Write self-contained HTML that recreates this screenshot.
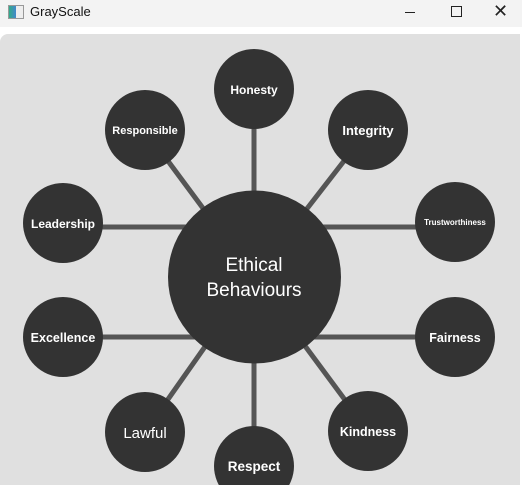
<!DOCTYPE html>
<html><head><style>
body{margin:0;width:522px;height:485px;overflow:hidden;background:#fff;font-family:"Liberation Sans",sans-serif;position:relative}
.tb{position:absolute;left:0;top:0;width:522px;height:27px;background:#f3f3f3}
.gray{position:absolute;left:0;top:34px;width:520px;height:451px;background:#e0e0e0;border-top-left-radius:8px}
</style></head><body>
<div class="tb">
<div style="position:absolute;left:8px;top:5px;width:14px;height:12px;border:1px solid #999;background:linear-gradient(90deg,#3a8 0,#48c 50%,#eee 50%)"></div>
<div style="position:absolute;left:30px;top:4px;font-size:13px;color:#111">GrayScale</div>
<div style="position:absolute;left:405px;top:12px;width:10px;height:1px;background:#222"></div>
<div style="position:absolute;left:451px;top:6px;width:9px;height:9px;border:1px solid #222"></div>
<div style="position:absolute;left:493px;top:1px;font-size:18px;color:#222">✕</div>
</div>
<div class="gray"></div>
<svg width="522" height="485" style="position:absolute;left:0;top:0">
<g stroke="#555" stroke-width="5">
<line x1="254" y1="89" x2="254" y2="466"/>
<line x1="63" y1="227" x2="455" y2="227"/>
<line x1="63" y1="337" x2="455" y2="337"/>
<line x1="145" y1="130" x2="254" y2="277"/>
<line x1="368" y1="130" x2="254" y2="277"/>
<line x1="145" y1="432" x2="254" y2="277"/>
<line x1="368" y1="431" x2="254" y2="277"/>
</g>
<g fill="#333">
<circle cx="254.5" cy="277" r="86.5"/>
<circle cx="254" cy="89" r="40"/>
<circle cx="145" cy="130" r="40"/>
<circle cx="368" cy="130" r="40"/>
<circle cx="63" cy="223" r="40"/>
<circle cx="455" cy="222" r="40"/>
<circle cx="63" cy="337" r="40"/>
<circle cx="455" cy="337" r="40"/>
<circle cx="145" cy="432" r="40"/>
<circle cx="368" cy="431" r="40"/>
<circle cx="254" cy="466" r="40"/>
</g>
<g fill="#fff" font-family="Liberation Sans,sans-serif" text-anchor="middle" font-weight="bold">
<text x="254" y="271" font-size="19" font-weight="normal">Ethical</text>
<text x="254" y="296" font-size="19" font-weight="normal">Behaviours</text>
<text x="254" y="94" font-size="12">Honesty</text>
<text x="145" y="134" font-size="11">Responsible</text>
<text x="368" y="135" font-size="13">Integrity</text>
<text x="63" y="228" font-size="12">Leadership</text>
<text x="455" y="225" font-size="8">Trustworthiness</text>
<text x="63" y="342" font-size="12.5">Excellence</text>
<text x="455" y="342" font-size="12.5">Fairness</text>
<text x="145" y="438" font-size="15" font-weight="normal">Lawful</text>
<text x="368" y="436" font-size="12.5">Kindness</text>
<text x="254" y="471" font-size="13.5">Respect</text>
</g>
</svg>
</body></html>
